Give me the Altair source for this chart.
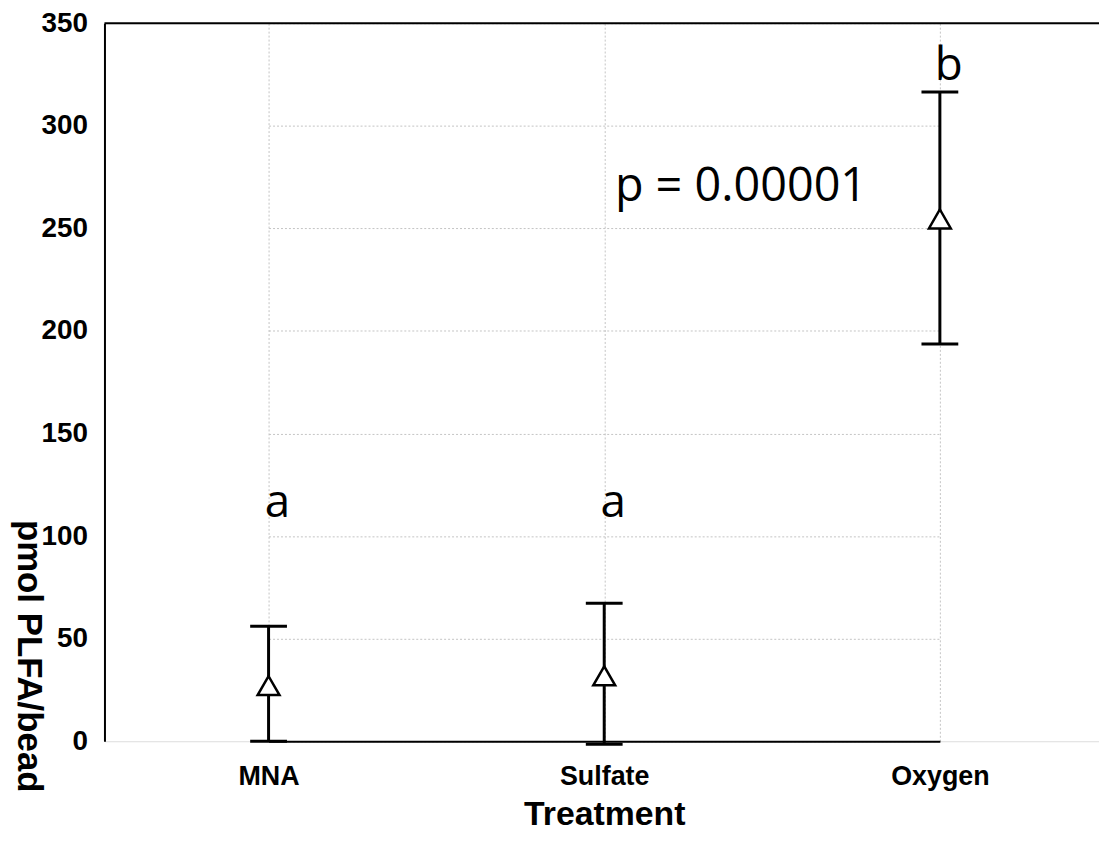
import altair as alt
import pandas as pd

treatments = ["MNA", "Sulfate", "Oxygen"]
means = [27.1, 31.9, 254.6]
lower = [0.0, -1.5, 193.6]
upper = [56.1, 67.3, 316.5]
letters = ["a", "a", "b"]
letter_y = [109.5, 109.5, 322.4]
p_text = "p = 0.00001"
p_y = 263.5
y_ticks = [0, 50, 100, 150, 200, 250, 300, 350]

df = pd.DataFrame({
    "Treatment": treatments,
    "mean": means,
    "lo": lower,
    "hi": upper,
    "letter": letters,
    "ly": letter_y,
})

xscale = alt.Scale(type="point", domain=treatments, range=[165, 840], padding=0)
yscale = alt.Scale(domain=[0, 350], nice=False, zero=False)

x_enc = alt.X(
    "Treatment:N",
    scale=xscale,
    sort=treatments,
    axis=alt.Axis(
        title="Treatment",
        labelFont="Liberation Sans", labelFontWeight="bold", labelFontSize=27,
        labelColor="black", labelPadding=22, labelAngle=0,
        titleFont="Liberation Sans", titleFontWeight="bold", titleFontSize=34,
        titleColor="black", titleBaseline="alphabetic", titleY=84,
        ticks=False, tickSize=0,
        domainColor="black", domainWidth=2,
        grid=True, gridColor="#c4c4c4", gridDash=[2, 2], gridWidth=1,
    ),
)

y_axis = alt.Axis(
    title="pmol PLFA/bead",
    values=y_ticks,
    labelFont="Liberation Sans", labelFontWeight="bold", labelFontSize=28,
    labelColor="black", labelPadding=17,
    titleFont="Liberation Sans", titleFontWeight="bold", titleFontSize=35,
    titleColor="black", titleAngle=90, titleAlign="center",
    titleBaseline="middle", titleX=-76, titleY=636,
    ticks=False, tickSize=0,
    domainColor="black", domainWidth=2,
    grid=True, gridColor="#c4c4c4", gridDash=[2, 2], gridWidth=1,
)

base = alt.Chart(df)

bars = base.mark_rule(color="black", strokeWidth=3, opacity=1).encode(
    x=x_enc,
    y=alt.Y("lo:Q", scale=yscale, axis=y_axis),
    y2="hi:Q",
)

cap_hi = base.mark_tick(color="black", size=37, thickness=3, opacity=1).encode(
    x=alt.X("Treatment:N", scale=xscale, sort=treatments),
    y=alt.Y("hi:Q", scale=yscale),
)
cap_lo = base.mark_tick(color="black", size=37, thickness=3, opacity=1).encode(
    x=alt.X("Treatment:N", scale=xscale, sort=treatments),
    y=alt.Y("lo:Q", scale=yscale),
)

pts = base.mark_point(
    shape="triangle-up", size=484, filled=True, fill="white",
    stroke="black", strokeWidth=2.5, opacity=1,
).encode(
    x=alt.X("Treatment:N", scale=xscale, sort=treatments),
    y=alt.Y("mean:Q", scale=yscale),
)

letters_layer = base.mark_text(
    font="Open Sans", fontSize=46, color="black", align="center",
    baseline="alphabetic", dx=9,
).encode(
    x=alt.X("Treatment:N", scale=xscale, sort=treatments),
    y=alt.Y("ly:Q", scale=yscale),
    text="letter:N",
)

p_layer = alt.Chart(pd.DataFrame({"Treatment": ["Oxygen"], "y": [p_y], "t": [p_text]})).mark_text(
    font="Open Sans", fontSize=47, color="black", align="center",
    baseline="alphabetic", dx=-200,
).encode(
    x=alt.X("Treatment:N", scale=xscale, sort=treatments),
    y=alt.Y("y:Q", scale=yscale),
    text="t:N",
)

top_line = alt.Chart(pd.DataFrame({"v": [350]})).mark_rule(color="black", strokeWidth=2).encode(
    y=alt.Y("v:Q", scale=yscale),
)

chart = alt.layer(
    bars, cap_hi, cap_lo, pts, letters_layer, p_layer, top_line
).properties(
    width=1000,
    height=722,
    autosize=alt.AutoSizeParams(type="none"),
    padding={"left": 97, "top": 13, "right": 0, "bottom": 91},
).configure_view(stroke=None).configure(background="white")

chart.save("out.html", embed_options={"renderer": "svg", "actions": False})
